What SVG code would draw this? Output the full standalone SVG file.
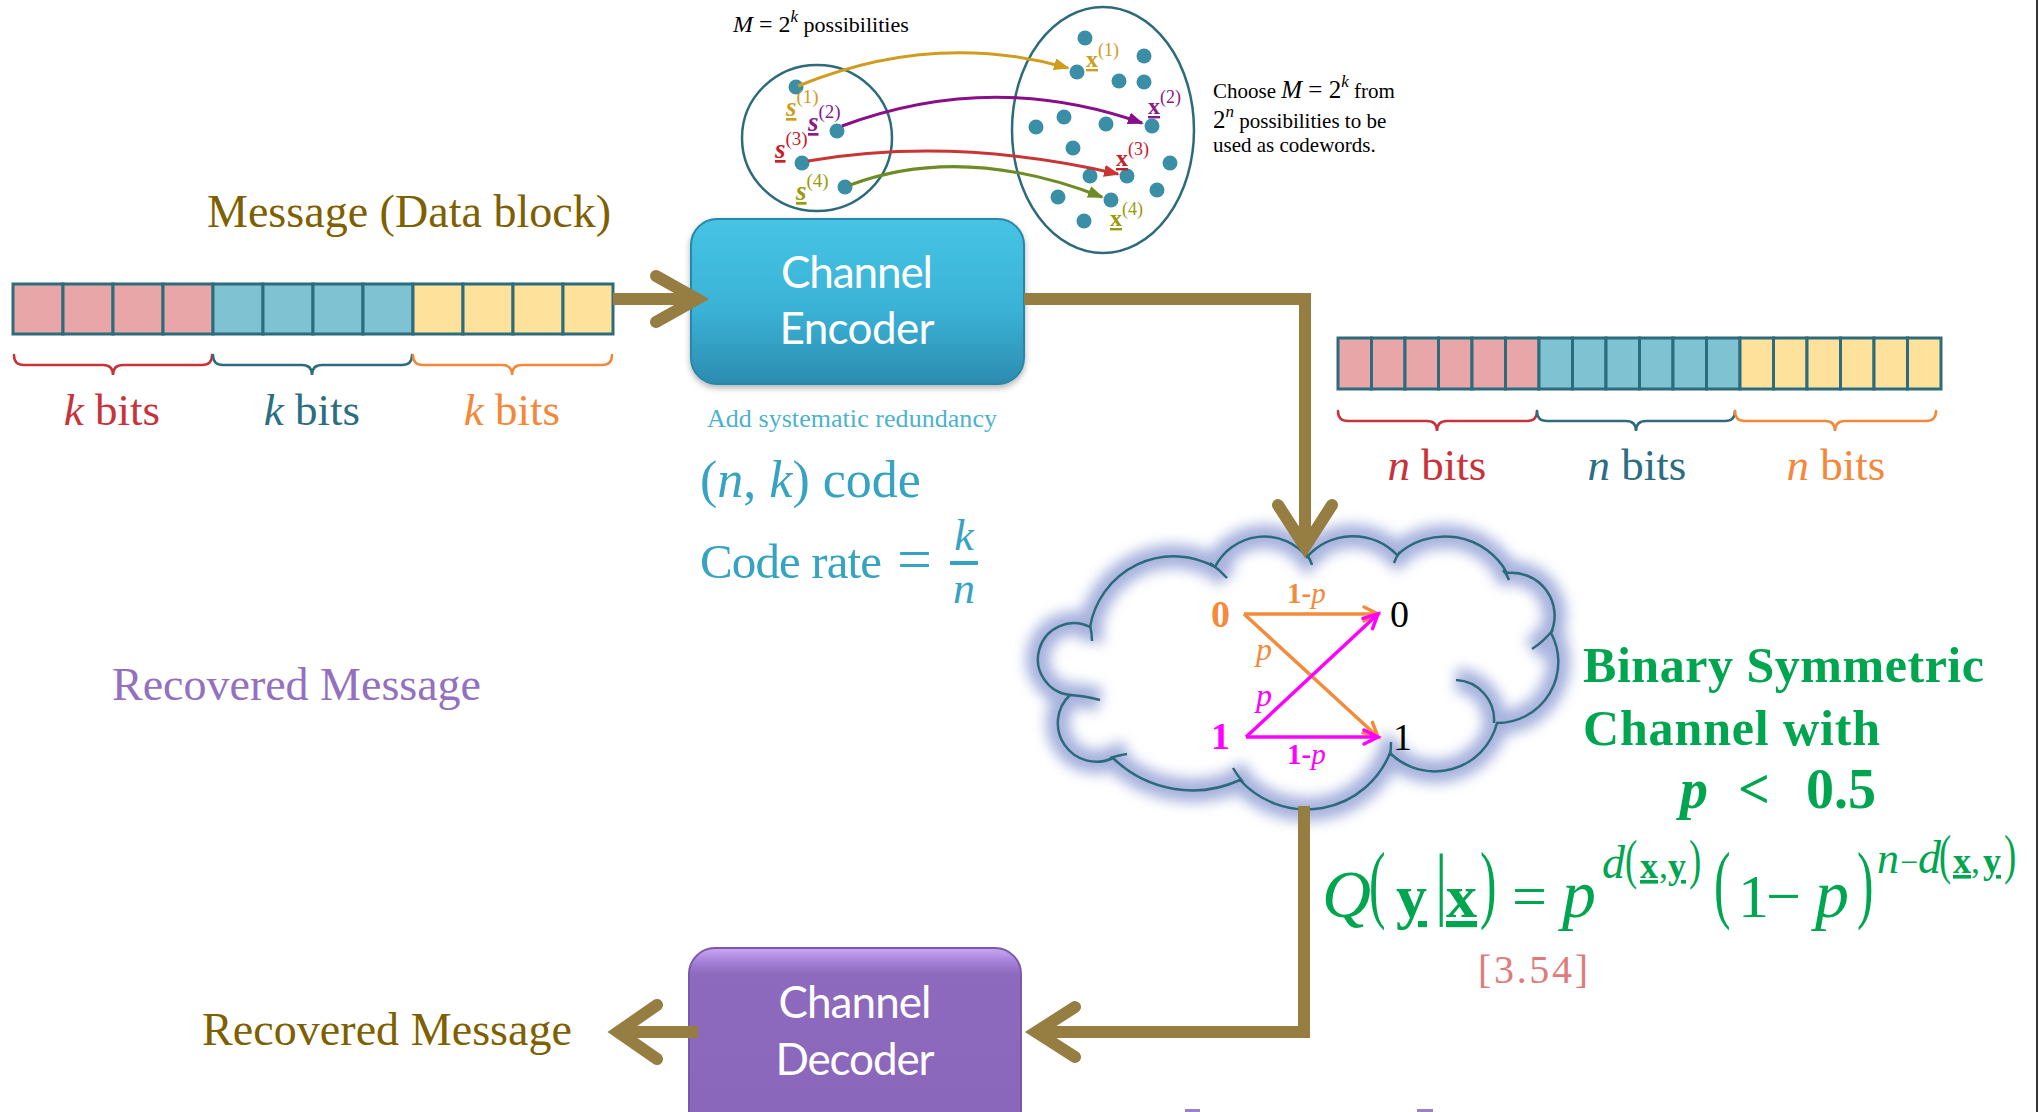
<svg xmlns="http://www.w3.org/2000/svg" width="2040" height="1112" viewBox="0 0 2040 1112">
  <style>
    .serif { font-family: "Liberation Serif", "DejaVu Serif", serif; }
    .sans { font-family: Lato, "Liberation Sans", sans-serif; }
    .it { font-style: italic; }
    .bd { font-weight: bold; }
    .ul { text-decoration: underline; }
    .cell { stroke: #2C6C7C; stroke-width: 3; }
    .pink { fill: #E8A6A8; }
    .blue { fill: #7FC2D2; }
    .yel { fill: #FEE19A; }
    .brace { fill: none; stroke-width: 2.5; stroke-linecap: round; }
    .pipe { fill: none; stroke: #967D41; stroke-width: 12; }
    .head { fill: none; stroke: #967D41; stroke-width: 12; stroke-linecap: round; stroke-linejoin: miter; }
    .dot { fill: #3A8EA6; }
    .ring { fill: none; stroke: #2C6B7B; stroke-width: 2.5; }
    .cloudline { fill: none; stroke: #2A6A7A; stroke-width: 2.5; }
    .halo { fill: none; stroke: #98A5D8; stroke-width: 24; }
    .green { fill: #00A550; }
    .boxtext { fill: #FFFFFF; font-size: 44px; }
  </style>
  <defs>
    <linearGradient id="encFill" x1="0" y1="0" x2="0" y2="1">
      <stop offset="0" stop-color="#46C4E5"/>
      <stop offset="0.55" stop-color="#3AB2D6"/>
      <stop offset="1" stop-color="#2C8CAF"/>
    </linearGradient>
    <linearGradient id="decFill" x1="0" y1="0" x2="0" y2="1">
      <stop offset="0" stop-color="#CBA8F4"/>
      <stop offset="0.07" stop-color="#A582D8"/>
      <stop offset="0.14" stop-color="#8E6ABE"/>
      <stop offset="1" stop-color="#8A66BA"/>
    </linearGradient>
    <filter id="shadow" x="-10%" y="-10%" width="120%" height="130%">
      <feDropShadow dx="0" dy="3" stdDeviation="3" flood-color="#000" flood-opacity="0.3"/>
    </filter>
    <filter id="glow" x="-20%" y="-20%" width="140%" height="140%">
      <feGaussianBlur stdDeviation="6.5"/>
    </filter>
    <marker id="mGold" markerUnits="userSpaceOnUse" markerWidth="18" markerHeight="14" refX="14" refY="6" orient="auto">
      <path d="M0,0 L16,6 L0,12 Z" fill="#D19C1D"/>
    </marker>
    <marker id="mPurple" markerUnits="userSpaceOnUse" markerWidth="18" markerHeight="14" refX="14" refY="6" orient="auto">
      <path d="M0,0 L16,6 L0,12 Z" fill="#8A0E8A"/>
    </marker>
    <marker id="mRed" markerUnits="userSpaceOnUse" markerWidth="18" markerHeight="14" refX="14" refY="6" orient="auto">
      <path d="M0,0 L16,6 L0,12 Z" fill="#C93434"/>
    </marker>
    <marker id="mOlive" markerUnits="userSpaceOnUse" markerWidth="18" markerHeight="14" refX="14" refY="6" orient="auto">
      <path d="M0,0 L16,6 L0,12 Z" fill="#6E8B24"/>
    </marker>
    <marker id="mOrange" markerUnits="userSpaceOnUse" markerWidth="20" markerHeight="20" refX="15" refY="8" orient="auto" overflow="visible">
      <path d="M1,1 L15,8 L1,15" fill="none" stroke="#F58A3B" stroke-width="3.5" stroke-linecap="round"/>
    </marker>
    <marker id="mMagenta" markerUnits="userSpaceOnUse" markerWidth="20" markerHeight="20" refX="15" refY="8" orient="auto" overflow="visible">
      <path d="M1,1 L15,8 L1,15" fill="none" stroke="#FF00FF" stroke-width="3.5" stroke-linecap="round"/>
    </marker>
    <path id="cloudOuter" d="M1090,627 A85,85 0 0 1 1215,567 A55,55 0 0 1 1307,557 A61,61 0 0 1 1397,555 A71,71 0 0 1 1507,573 A43,43 0 0 1 1551,633 A61,61 0 0 1 1497,723 A64,64 0 0 1 1390,753 A90,90 0 0 1 1240,780 A114,114 0 0 1 1113,758 A38.6,38.6 0 0 1 1070,695 A36,36 0 1 1 1090,627 Z"/>
    <path id="cloudInner" d="M1090,625 Q1092,634 1092,641 M1210,563 Q1220,570 1227,578 M1305,553 Q1310,558 1312,565 M1400,552 Q1396,557 1394,563 M1503,570 Q1507,574 1509,580 M1553,630 Q1543,642 1532,649 M1456,680 A40,40 0 0 1 1494,723 M1390,756 Q1391,749 1391,742 M1243,782 Q1237,775 1233,768 M1110,758 Q1120,755 1127,754 M1070,695 Q1086,696 1100,700"/>
  </defs>

  <rect x="0" y="0" width="2040" height="1112" fill="#FFFFFF"/>

  <!-- message (data block): 3 x k bits -->
  <g id="message-block">
    <text class="serif" x="207" y="227" font-size="46" fill="#7F6000" textLength="404">Message (Data block)</text>
    <rect class="cell pink" x="13" y="284" width="50" height="50"/>
    <rect class="cell pink" x="63" y="284" width="50" height="50"/>
    <rect class="cell pink" x="113" y="284" width="50" height="50"/>
    <rect class="cell pink" x="163" y="284" width="50" height="50"/>
    <rect class="cell blue" x="213" y="284" width="50" height="50"/>
    <rect class="cell blue" x="263" y="284" width="50" height="50"/>
    <rect class="cell blue" x="313" y="284" width="50" height="50"/>
    <rect class="cell blue" x="363" y="284" width="50" height="50"/>
    <rect class="cell yel" x="413" y="284" width="50" height="50"/>
    <rect class="cell yel" x="463" y="284" width="50" height="50"/>
    <rect class="cell yel" x="513" y="284" width="50" height="50"/>
    <rect class="cell yel" x="563" y="284" width="50" height="50"/>
    <path class="brace" stroke="#C8323A" d="M14,355 Q14,365 24,365 L103,365 Q113,365 113,375 Q113,365 123,365 L202,365 Q212,365 212,355"/>
    <path class="brace" stroke="#2C6C7C" d="M213,355 Q213,365 223,365 L302,365 Q312,365 312,375 Q312,365 322,365 L402,365 Q412,365 412,355"/>
    <path class="brace" stroke="#F4883A" d="M413,355 Q413,365 423,365 L502,365 Q512,365 512,375 Q512,365 522,365 L602,365 Q612,365 612,355"/>
    <text class="serif" x="112" y="425" font-size="45" fill="#C8323A" text-anchor="middle"><tspan class="it">k</tspan> bits</text>
    <text class="serif" x="312" y="425" font-size="45" fill="#2A6E80" text-anchor="middle"><tspan class="it">k</tspan> bits</text>
    <text class="serif" x="512" y="425" font-size="45" fill="#F4883A" text-anchor="middle"><tspan class="it">k</tspan> bits</text>
  </g>

  <!-- channel encoder -->
  <g id="encoder">
    <rect x="691" y="219" width="333" height="165" rx="26" fill="url(#encFill)" stroke="#2A86A6" stroke-width="2" filter="url(#shadow)"/>
    <text class="sans boxtext" x="857" y="288" text-anchor="middle" textLength="152">Channel</text>
    <text class="sans boxtext" x="857" y="344" text-anchor="middle" textLength="155">Encoder</text>
    <text class="serif" x="707" y="427" font-size="26" fill="#4BB2CC" textLength="290">Add systematic redundancy</text>
    <text class="serif" x="700" y="497" font-size="52" fill="#36A3C2">(<tspan class="it">n</tspan>, <tspan class="it">k</tspan>) code</text>
    <text class="serif" x="700" y="578" font-size="49" fill="#36A3C2" textLength="182">Code rate</text>
    <text class="serif" x="897" y="580" font-size="62" fill="#36A3C2">=</text>
    <text class="serif it" x="964" y="550" font-size="44" fill="#36A3C2" text-anchor="middle">k</text>
    <rect x="950" y="561" width="28" height="4" fill="#36A3C2"/>
    <text class="serif it" x="964" y="603" font-size="44" fill="#36A3C2" text-anchor="middle">n</text>
  </g>

  <!-- message space and codeword space -->
  <g id="codebook">
    <text class="serif" x="733" y="32" font-size="22" fill="#000"><tspan class="it" font-size="24">M</tspan><tspan font-size="24"> = 2</tspan><tspan class="it" font-size="17" dy="-10">k</tspan><tspan dy="10"> possibilities</tspan></text>
    <ellipse class="ring" cx="817" cy="138" rx="75" ry="73"/>
    <ellipse class="ring" cx="1103" cy="130" rx="91" ry="123"/>
    <circle class="dot" cx="796" cy="87" r="7.5"/>
    <circle class="dot" cx="837" cy="131" r="7.5"/>
    <circle class="dot" cx="802" cy="163" r="7.5"/>
    <circle class="dot" cx="845" cy="187" r="7.5"/>
    <circle class="dot" cx="1085" cy="38" r="7.5"/>
    <circle class="dot" cx="1144" cy="56" r="7.5"/>
    <circle class="dot" cx="1077" cy="72" r="7.5"/>
    <circle class="dot" cx="1119" cy="81" r="7.5"/>
    <circle class="dot" cx="1144" cy="82" r="7.5"/>
    <circle class="dot" cx="1064" cy="117" r="7.5"/>
    <circle class="dot" cx="1036" cy="127" r="7.5"/>
    <circle class="dot" cx="1106" cy="124" r="7.5"/>
    <circle class="dot" cx="1152" cy="126" r="7.5"/>
    <circle class="dot" cx="1073" cy="148" r="7.5"/>
    <circle class="dot" cx="1170" cy="163" r="7.5"/>
    <circle class="dot" cx="1090" cy="176" r="7.5"/>
    <circle class="dot" cx="1127" cy="176" r="7.5"/>
    <circle class="dot" cx="1157" cy="190" r="7.5"/>
    <circle class="dot" cx="1058" cy="197" r="7.5"/>
    <circle class="dot" cx="1111" cy="200" r="7.5"/>
    <circle class="dot" cx="1084" cy="221" r="7.5"/>
    <!-- message labels -->
    <text class="serif" x="786" y="116" font-size="27" fill="#D19C1D"><tspan class="bd it ul">s</tspan><tspan font-size="19" dy="-13">(1)</tspan></text>
    <text class="serif" x="808" y="131" font-size="27" fill="#8A1A8A"><tspan class="bd it ul">s</tspan><tspan font-size="19" dy="-13">(2)</tspan></text>
    <text class="serif" x="775" y="158" font-size="27" fill="#C8202A"><tspan class="bd it ul">s</tspan><tspan font-size="19" dy="-13">(3)</tspan></text>
    <text class="serif" x="796" y="200" font-size="27" fill="#9A9A0A"><tspan class="bd it ul">s</tspan><tspan font-size="19" dy="-13">(4)</tspan></text>
    <!-- codeword labels -->
    <text class="serif" x="1086" y="67" font-size="24" fill="#D19C1D"><tspan class="bd ul">x</tspan><tspan font-size="18" dy="-11">(1)</tspan></text>
    <text class="serif" x="1148" y="114" font-size="24" fill="#8A1A8A"><tspan class="bd ul">x</tspan><tspan font-size="18" dy="-11">(2)</tspan></text>
    <text class="serif" x="1116" y="166" font-size="24" fill="#C8202A"><tspan class="bd ul">x</tspan><tspan font-size="18" dy="-11">(3)</tspan></text>
    <text class="serif" x="1110" y="226" font-size="24" fill="#9A9A0A"><tspan class="bd ul">x</tspan><tspan font-size="18" dy="-11">(4)</tspan></text>
    <text class="serif" x="1213" y="98" font-size="21" fill="#000">Choose <tspan class="it" font-size="25">M</tspan><tspan font-size="25"> = 2</tspan><tspan class="it" font-size="17" dy="-11">k</tspan><tspan dy="11"> from</tspan></text>
    <text class="serif" x="1213" y="128" font-size="21" fill="#000"><tspan font-size="25">2</tspan><tspan class="it" font-size="17" dy="-11">n</tspan><tspan dy="11"> possibilities to be</tspan></text>
    <text class="serif" x="1213" y="152" font-size="21" fill="#000">used as codewords.</text>
  </g>

  <!-- coded block: 3 x n bits -->
  <g id="coded-block">
    <rect class="cell pink" x="1338" y="338" width="33.5" height="51"/>
    <rect class="cell pink" x="1371.5" y="338" width="33.5" height="51"/>
    <rect class="cell pink" x="1405" y="338" width="33.5" height="51"/>
    <rect class="cell pink" x="1438.5" y="338" width="33.5" height="51"/>
    <rect class="cell pink" x="1472" y="338" width="33.5" height="51"/>
    <rect class="cell pink" x="1505.5" y="338" width="33.5" height="51"/>
    <rect class="cell blue" x="1539" y="338" width="33.5" height="51"/>
    <rect class="cell blue" x="1572.5" y="338" width="33.5" height="51"/>
    <rect class="cell blue" x="1606" y="338" width="33.5" height="51"/>
    <rect class="cell blue" x="1639.5" y="338" width="33.5" height="51"/>
    <rect class="cell blue" x="1673" y="338" width="33.5" height="51"/>
    <rect class="cell blue" x="1706.5" y="338" width="33.5" height="51"/>
    <rect class="cell yel" x="1740" y="338" width="33.5" height="51"/>
    <rect class="cell yel" x="1773.5" y="338" width="33.5" height="51"/>
    <rect class="cell yel" x="1807" y="338" width="33.5" height="51"/>
    <rect class="cell yel" x="1840.5" y="338" width="33.5" height="51"/>
    <rect class="cell yel" x="1874" y="338" width="33.5" height="51"/>
    <rect class="cell yel" x="1907.5" y="338" width="33.5" height="51"/>
    <path class="brace" stroke="#C8323A" d="M1338,411 Q1338,421 1348,421 L1427,421 Q1437,421 1437,431 Q1437,421 1447,421 L1527,421 Q1537,421 1537,411"/>
    <path class="brace" stroke="#2C6C7C" d="M1537,411 Q1537,421 1547,421 L1626,421 Q1636,421 1636,431 Q1636,421 1646,421 L1725,421 Q1735,421 1735,411"/>
    <path class="brace" stroke="#F4883A" d="M1735,411 Q1735,421 1745,421 L1825,421 Q1835,421 1835,431 Q1835,421 1845,421 L1926,421 Q1936,421 1936,411"/>
    <text class="serif" x="1437" y="480" font-size="45" fill="#C8323A" text-anchor="middle"><tspan class="it">n</tspan> bits</text>
    <text class="serif" x="1637" y="480" font-size="45" fill="#2A6E80" text-anchor="middle"><tspan class="it">n</tspan> bits</text>
    <text class="serif" x="1836" y="480" font-size="45" fill="#F4883A" text-anchor="middle"><tspan class="it">n</tspan> bits</text>
  </g>

  <!-- binary symmetric channel -->
  <g id="channel">
    <use href="#cloudOuter" fill="#FFFFFF"/>
    <g filter="url(#glow)" opacity="0.85">
      <use href="#cloudOuter" class="halo"/>
      <use href="#cloudInner" class="halo" stroke-width="14"/>
    </g>
    <use href="#cloudOuter" class="cloudline"/>
    <use href="#cloudInner" class="cloudline"/>
    <line x1="1244" y1="614" x2="1378" y2="614" stroke="#F58A3B" stroke-width="3.5" marker-end="url(#mOrange)"/>
    <line x1="1244" y1="614" x2="1378" y2="737" stroke="#F58A3B" stroke-width="3.5" marker-end="url(#mOrange)"/>
    <line x1="1246" y1="737" x2="1378" y2="614" stroke="#FF00FF" stroke-width="3.5" marker-end="url(#mMagenta)"/>
    <line x1="1246" y1="737" x2="1378" y2="737" stroke="#FF00FF" stroke-width="3.5" marker-end="url(#mMagenta)"/>
    <text class="serif bd" x="1211" y="627" font-size="38" fill="#F58A3B">0</text>
    <text class="serif bd" x="1211" y="749" font-size="38" fill="#FF00FF">1</text>
    <text class="serif" x="1390" y="627" font-size="38" fill="#000">0</text>
    <text class="serif" x="1393" y="750" font-size="38" fill="#000">1</text>
    <text class="serif" x="1287" y="603" font-size="29" fill="#F58A3B"><tspan class="bd">1-</tspan><tspan class="it">p</tspan></text>
    <text class="serif it" x="1256" y="660" font-size="32" fill="#F58A3B">p</text>
    <text class="serif it" x="1256" y="706" font-size="32" fill="#FF00FF">p</text>
    <text class="serif" x="1287" y="764" font-size="29" fill="#FF00FF"><tspan class="bd">1-</tspan><tspan class="it">p</tspan></text>
    <text class="serif bd green" x="1583" y="682" font-size="50" textLength="401">Binary Symmetric</text>
    <text class="serif bd green" x="1583" y="745" font-size="50" textLength="297">Channel with</text>
    <text class="serif bd green" y="808" font-size="56"><tspan class="it" x="1680">p</tspan><tspan x="1738">&lt;</tspan><tspan x="1806">0.5</tspan></text>
  </g>

  <!-- likelihood of the BSC -->
  <g id="likelihood" class="serif green">
    <text class="it" x="1322" y="917" font-size="68">Q</text>
    <text transform="translate(1369,912) scale(0.75,1.3)" font-size="66">(</text>
    <text class="bd ul" x="1396" y="917" font-size="62">y</text>
    <text transform="translate(1435,910) scale(1,1.3)" font-size="62">|</text>
    <text class="bd ul" x="1446" y="917" font-size="62">x</text>
    <text transform="translate(1480,912) scale(0.75,1.3)" font-size="66">)</text>
    <text x="1512" y="917" font-size="62">=</text>
    <text class="it" x="1562" y="917" font-size="68">p</text>
    <text class="it" x="1602" y="878" font-size="46">d</text>
    <text transform="translate(1625,878) scale(0.8,1.2)" font-size="46">(</text>
    <text y="878" font-size="36"><tspan class="bd ul" x="1640">x</tspan><tspan x="1659">,</tspan><tspan class="bd ul" x="1668">y</tspan></text>
    <text transform="translate(1689,878) scale(0.8,1.2)" font-size="46">)</text>
    <text transform="translate(1714,912) scale(0.75,1.3)" font-size="66">(</text>
    <text x="1738" y="917" font-size="62">1</text>
    <text x="1766" y="917" font-size="62">−</text>
    <text class="it" x="1815" y="917" font-size="68">p</text>
    <text transform="translate(1857,912) scale(0.75,1.3)" font-size="66">)</text>
    <text class="it" x="1877" y="873" font-size="44">n</text>
    <text x="1900" y="873" font-size="32">−</text>
    <text class="it" x="1918" y="873" font-size="46">d</text>
    <text transform="translate(1939,873) scale(0.8,1.2)" font-size="46">(</text>
    <text y="873" font-size="36"><tspan class="bd ul" x="1953">x</tspan><tspan x="1971">,</tspan><tspan class="bd ul" x="1983">y</tspan></text>
    <text transform="translate(2004,873) scale(0.8,1.2)" font-size="46">)</text>
    <text x="1478" y="983" font-size="40" fill="#E07B7B" textLength="110">[3.54]</text>
  </g>

  <!-- recovered message labels -->
  <g id="recovered">
    <text class="serif" x="112" y="700" font-size="46" fill="#9370C0" textLength="369">Recovered Message</text>
    <text class="serif" x="202" y="1045" font-size="46" fill="#7F6000" textLength="370">Recovered Message</text>
  </g>

  <!-- channel decoder -->
  <g id="decoder">
    <rect x="689" y="948" width="332" height="190" rx="26" fill="url(#decFill)" stroke="#7A5AA8" stroke-width="2"/>
    <text class="sans boxtext" x="855" y="1018" text-anchor="middle" textLength="153">Channel</text>
    <text class="sans boxtext" x="855" y="1075" text-anchor="middle" textLength="159">Decoder</text>
  </g>

  <!-- connectors -->
  <g id="connectors">
    <line class="pipe" x1="613" y1="299" x2="697" y2="299"/>
    <polyline class="head" points="656,276 697,299 656,322"/>
    <polyline class="pipe" points="1024,299 1305,299 1305,545"/>
    <polyline class="head" points="1278,505 1305,547 1332,505"/>
    <polyline class="pipe" points="1304,806 1304,1032 1035,1032"/>
    <polyline class="head" points="1075,1007 1036,1032 1075,1057"/>
    <line class="pipe" x1="698" y1="1032" x2="620" y2="1032"/>
    <polyline class="head" points="657,1005 618,1032 657,1059"/>
    <path d="M798,86 Q934,30 1068,68" fill="none" stroke="#D19C1D" stroke-width="3" marker-end="url(#mGold)"/>
    <path d="M842,126 Q992,70 1142,123" fill="none" stroke="#8A0E8A" stroke-width="3" marker-end="url(#mPurple)"/>
    <path d="M808,161 Q955,136 1118,174" fill="none" stroke="#C93434" stroke-width="3" marker-end="url(#mRed)"/>
    <path d="M850,185 Q963,143 1102,197" fill="none" stroke="#6E8B24" stroke-width="3" marker-end="url(#mOlive)"/>
  </g>

  <!-- marks at the lower edge and frame edge -->
  <rect x="1185" y="1109" width="15" height="3" fill="#9B80C9"/>
  <rect x="1417" y="1109" width="16" height="3" fill="#9B80C9"/>
  <line x1="2037" y1="0" x2="2037" y2="1112" stroke="#333333" stroke-width="2"/>
</svg>
